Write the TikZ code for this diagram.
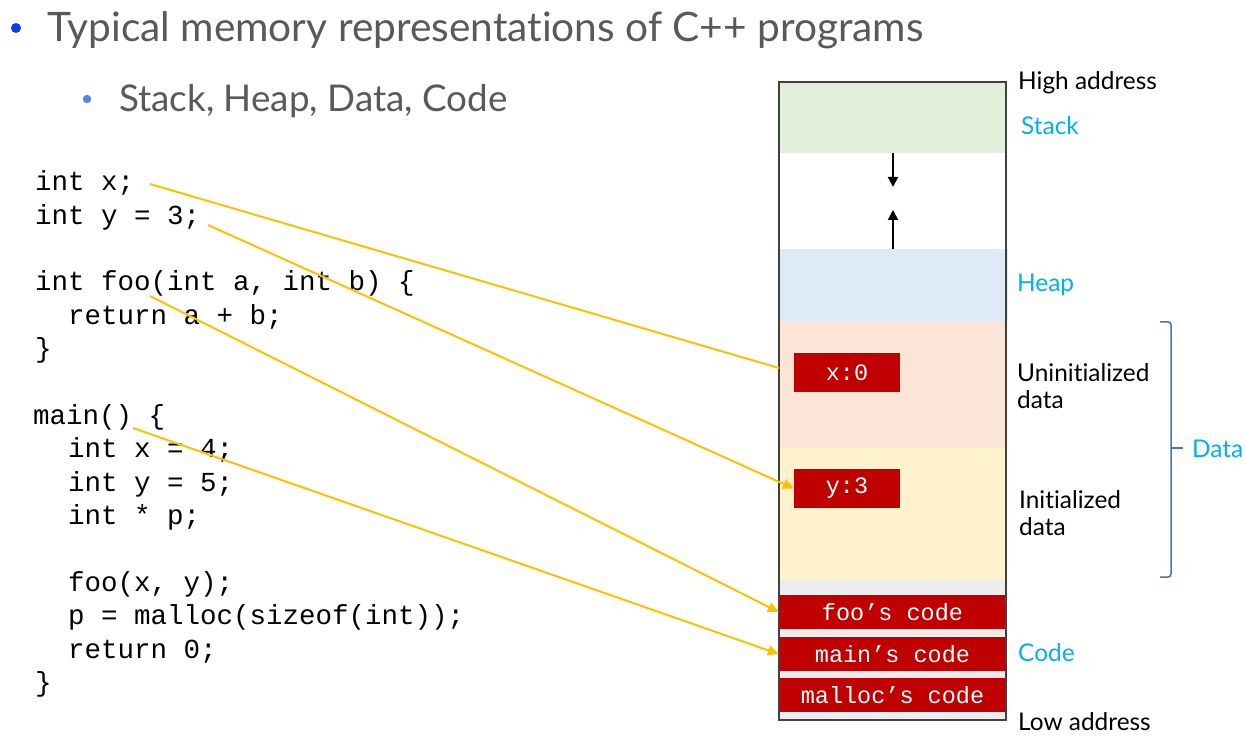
\documentclass[tikz,border=0pt]{standalone}
\usepackage{fontspec}
\setmainfont{Lato}[Ligatures=NoCommon]
\newfontfamily\codefont{Liberation Mono}
\usetikzlibrary{arrows.meta}
\definecolor{titlegray}{HTML}{595959}
\definecolor{bulletA}{HTML}{0A3CF0}
\definecolor{bulletB}{HTML}{4A86F0}
\definecolor{labelcyan}{HTML}{00B0F0}
\definecolor{bracecol}{HTML}{4472C4}
\definecolor{ptrgold}{HTML}{FFC000}
\definecolor{codered}{HTML}{C00000}
\definecolor{stackgreen}{HTML}{E2EFDA}
\definecolor{heapblue}{HTML}{DEEBF7}
\definecolor{uninitpeach}{HTML}{FBE5D6}
\definecolor{inityellow}{HTML}{FFF2CC}
\definecolor{codegray}{HTML}{EDEDED}
\definecolor{framegray}{HTML}{404040}
\tikzset{
  codeline/.style={anchor=base west, inner sep=0pt, font=\codefont\fontsize{27.5}{33}\selectfont},
  lbl/.style={anchor=base west, inner sep=0pt, font=\fontsize{24.4}{27}\selectfont},
  cyanlbl/.style={lbl, text=labelcyan},
  region/.style={inner sep=0pt, draw=none, minimum width=227pt, anchor=north west},
  redbox/.style={fill=codered, text=white, inner sep=0pt, font=\codefont\fontsize{23.5}{23.5}\selectfont},
  varbox/.style={redbox, minimum width=106pt, minimum height=39pt},
  codebox/.style={redbox, minimum width=227pt, minimum height=34pt},
  ptr/.style={draw=ptrgold, line width=2pt, -{Triangle[length=11pt,width=10pt]}},
  ptrplain/.style={draw=ptrgold, line width=2pt},
  growarrow/.style={draw=black, line width=2pt, -{Triangle[length=10pt,width=10pt]}}
}
\begin{document}
\begin{tikzpicture}[x=1pt,y=-1pt]
\fill[white] (0,0) rectangle (1245,743);
\useasboundingbox (0,0) rectangle (1245,743);

% title
\fill[bulletA] (16,28) circle (5pt);
\node[anchor=base west, inner sep=0pt, text=titlegray, font=\fontsize{40.6}{44}\selectfont] (title) at (47,42) {Typical memory representations of C++ programs};
\fill[bulletB] (87,99) circle (4.2pt);
\node[anchor=base west, inner sep=0pt, text=titlegray, font=\fontsize{36.8}{40}\selectfont] (subtitle) at (119,112) {Stack, Heap, Data, Code};

% code
\node[codeline] (c0) at (35,190.7) {int x;};
\node[codeline] (c1) at (35,224.1) {int y = 3;};
\node[codeline] (c3) at (35,290.9) {int foo(int a, int b) \{};
\node[codeline] (c4) at (68,324.3) {return a + b;};
\node[codeline] (c5) at (35,357.7) {\}};
\node[codeline] (c7) at (33,424.5) {main() \{};
\node[codeline] (c8) at (68,457.9) {int x = 4;};
\node[codeline] (c9) at (68,491.3) {int y = 5;};
\node[codeline] (c10) at (68,524.7) {int * p;};
\node[codeline] (c12) at (68,591.5) {foo(x, y);};
\node[codeline] (c13) at (68,624.9) {p = malloc(sizeof(int));};
\node[codeline] (c14) at (68,658.3) {return 0;};
\node[codeline] (c15) at (35,691.7) {\}};

% memory column
\node[region, fill=stackgreen, minimum height=71pt] (stack) at (779,82) {};
\node[region, fill=heapblue, minimum height=72pt, minimum width=229pt] (heap) at (779,249) {};
\node[region, fill=uninitpeach, minimum height=127pt] (uninit) at (779,321) {};
\node[region, fill=inityellow, minimum height=131pt] (init) at (779,448) {};
\node[region, fill=codegray, minimum height=141pt] (code) at (779,579) {};
\node[varbox] (xbox) at (847,372.5) {x:0};
\node[varbox] (ybox) at (847,488.5) {y:3};
\node[codebox] (foocode) at (892.5,612) {foo’s code};
\node[codebox] (maincode) at (892.5,654) {main’s code};
\node[codebox] (malloccode) at (892.5,695) {malloc’s code};
\draw[framegray, line width=2pt] (779,82) rectangle (1006,720);

% growth arrows
\coordinate (stackgrow) at (893,187);
\coordinate (heapgrow) at (893,210);
\draw[growarrow] (stack.south -| stackgrow) -- (stackgrow);
\draw[growarrow] (heap.north -| heapgrow) -- (heapgrow);

% labels
\node[lbl] (high) at (1018,90) {High address};
\node[cyanlbl] (stacklbl) at (1021,135) {Stack};
\node[cyanlbl] (heaplbl) at (1017,292) {Heap};
\node[lbl] (uninit1) at (1017,381.7) {Uninitialized};
\node[lbl] (uninit2) at (1017,408.3) {data};
\node[lbl] (init1) at (1019,508.3) {Initialized};
\node[lbl] (init2) at (1019,535) {data};
\node[cyanlbl] (codelbl) at (1018,661) {Code};
\node[lbl] (low) at (1018,730) {Low address};
\node[cyanlbl] (datalbl) at (1192,457) {Data};
\coordinate (bracetop) at (1160,322);
\coordinate (bracebot) at (1160,577);
\coordinate (bracemid) at (1171,448);
\coordinate (bracetip) at (1183,448);
\draw[bracecol, line width=1.5pt, rounded corners=3pt] (bracetop) -| (bracemid) |- (bracebot);
\draw[bracecol, line width=1.5pt] (bracemid) -- (bracetip);

% pointers
\coordinate (cx) at (150,184);
\coordinate (cy) at (208,225);
\coordinate (cfoo) at (150,296);
\coordinate (cmain) at (133,428);
\coordinate (xend) at (779,368);
\draw[ptrplain] (cx) -- (xend);
\draw[ptr] (cy) -- (ybox.west);
\draw[ptr] (cfoo) -- (foocode.west);
\draw[ptr] (cmain) -- (maincode.west);
\end{tikzpicture}
\end{document}
